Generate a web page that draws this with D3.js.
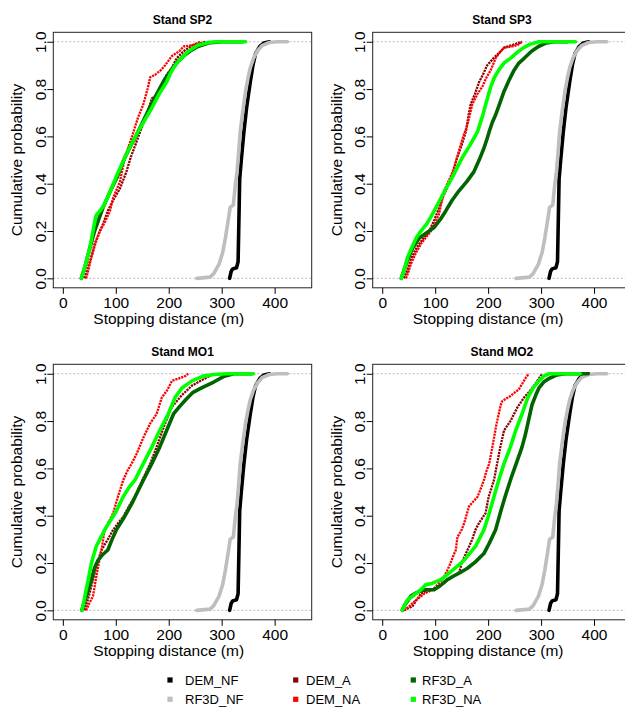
<!DOCTYPE html>
<html>
<head>
<meta charset="utf-8">
<script src="https://cdn.jsdelivr.net/npm/d3@7"></script>
<style>
  body { margin: 0; background: #fff; }
  text { font-family: "Liberation Sans", Arial, sans-serif; }
</style>
</head>
<body>
<div id="chart"></div>
<script>
// panel titles, series names and colours
var panelTitles = ["Stand SP2", "Stand SP3", "Stand MO1", "Stand MO2"];
var seriesNames = ["DEM_NF", "RF3D_NF", "DEM_A", "DEM_NA", "RF3D_A", "RF3D_NA"];
var seriesColors = ["#000000", "#bebebe", "#8b0000", "#ff0000", "#006400", "#00ff00"];
var xTicks = [0, 100, 200, 300, 400];
var yTicks = [0, 0.2, 0.4, 0.6, 0.8, 1.0];

// ECDF: [stopping distance (m), cumulative probability]
// the no-forest runs are the same in every stand
var demNF = [[315,0],[318,0.03],[321,0.04],[328,0.045],[331,0.07],[333,0.3],[334,0.42],[337,0.5],[342,0.62],[347,0.72],[354,0.83],[359,0.9],[364,0.95],[372,0.98],[380,0.995],[390,1]];
var rf3dNF = [[253,0],[278,0.005],[285,0.02],[295,0.06],[302,0.11],[307,0.17],[312,0.24],[316,0.3],[322,0.31],[326,0.4],[329,0.45],[332,0.53],[335,0.62],[340,0.71],[345,0.79],[350,0.85],[354,0.89],[360,0.93],[367,0.96],[377,0.985],[390,0.997],[405,1],[424,1]];

// Stand SP2
var sp2DemA = [[41,0],[48,0.05],[55,0.1],[60,0.145],[68,0.19],[76,0.23],[85,0.285],[95,0.33],[108,0.38],[120,0.45],[128,0.51],[138,0.57],[146,0.62],[158,0.69],[168,0.76],[180,0.78],[189,0.8],[196,0.86],[206,0.89],[215,0.93],[228,0.96],[245,0.985],[270,1]];
var sp2DemNA = [[44,0],[50,0.05],[54,0.09],[62,0.15],[70,0.2],[80,0.24],[89,0.285],[95,0.34],[108,0.41],[117,0.51],[130,0.595],[142,0.68],[152,0.735],[160,0.8],[165,0.85],[174,0.86],[185,0.88],[193,0.9],[206,0.94],[220,0.96],[228,0.98],[244,0.985],[260,1]];
var sp2Rf3dA = [[35,0],[42,0.05],[50,0.12],[60,0.2],[68,0.25],[76,0.3],[90,0.37],[103,0.43],[115,0.5],[128,0.56],[140,0.61],[155,0.68],[168,0.74],[180,0.79],[192,0.84],[205,0.88],[215,0.91],[228,0.94],[240,0.96],[255,0.98],[275,0.995],[300,1],[340,1]];
var sp2Rf3dNA = [[35,0],[43,0.06],[51,0.13],[57,0.2],[62,0.26],[64,0.27],[72,0.29],[78,0.31],[90,0.37],[101,0.43],[117,0.51],[130,0.57],[142,0.62],[155,0.67],[168,0.72],[182,0.78],[196,0.83],[204,0.87],[212,0.9],[224,0.93],[237,0.96],[255,0.985],[275,0.997],[291,1],[345,1]];

// Stand SP3
var sp3DemA = [[41,0],[47,0.03],[54,0.08],[65,0.13],[78,0.17],[89,0.2],[98,0.245],[106,0.29],[114,0.34],[124,0.39],[133,0.44],[140,0.5],[148,0.55],[158,0.62],[163,0.69],[167,0.735],[175,0.78],[183,0.83],[190,0.86],[198,0.9],[210,0.93],[224,0.96],[230,0.975],[264,1]];
var sp3DemNA = [[45,0],[50,0.03],[54,0.06],[62,0.1],[73,0.145],[85,0.18],[92,0.2],[100,0.235],[107,0.27],[112,0.32],[117,0.37],[125,0.41],[133,0.45],[140,0.5],[145,0.54],[153,0.6],[161,0.65],[170,0.735],[180,0.78],[189,0.81],[197,0.85],[205,0.88],[214,0.93],[222,0.955],[230,0.975],[245,0.98],[255,0.985],[264,1]];
var sp3Rf3dA = [[36,0],[42,0.04],[48,0.08],[58,0.13],[70,0.17],[82,0.19],[98,0.215],[110,0.25],[120,0.285],[132,0.33],[145,0.37],[160,0.41],[173,0.45],[183,0.5],[192,0.55],[198,0.59],[202,0.62],[208,0.66],[214,0.69],[222,0.74],[230,0.79],[240,0.84],[249,0.88],[258,0.91],[268,0.93],[282,0.96],[295,0.98],[310,0.995],[325,1],[350,1]];
var sp3Rf3dNA = [[36,0],[42,0.04],[48,0.09],[56,0.13],[64,0.17],[73,0.2],[84,0.23],[92,0.26],[104,0.31],[118,0.37],[133,0.43],[151,0.51],[165,0.56],[180,0.62],[190,0.69],[196,0.74],[205,0.81],[212,0.85],[220,0.88],[230,0.91],[242,0.93],[255,0.955],[267,0.975],[280,0.99],[296,1],[352,1],[365,1]];

// Stand MO1
var mo1DemA = [[41,0],[48,0.05],[57,0.13],[65,0.2],[73,0.255],[85,0.3],[95,0.34],[105,0.37],[114,0.395],[125,0.44],[136,0.48],[150,0.55],[165,0.62],[177,0.69],[185,0.74],[193,0.79],[206,0.86],[225,0.91],[244,0.95],[260,0.97],[285,1]];
var mo1DemNA = [[44,0],[50,0.03],[57,0.06],[63,0.14],[68,0.2],[73,0.255],[79,0.34],[88,0.38],[95,0.41],[104,0.48],[114,0.55],[122,0.59],[130,0.62],[139,0.66],[152,0.73],[165,0.79],[177,0.83],[187,0.9],[197,0.93],[206,0.97],[231,0.99],[237,1]];
var mo1Rf3dA = [[36,0],[43,0.05],[50,0.1],[54,0.13],[60,0.18],[66,0.21],[75,0.235],[85,0.255],[93,0.3],[101,0.34],[115,0.39],[130,0.45],[141,0.5],[152,0.55],[168,0.62],[183,0.69],[196,0.76],[209,0.83],[220,0.86],[232,0.89],[245,0.92],[262,0.94],[285,0.965],[305,0.99],[323,1],[357,1]];
var mo1Rf3dNA = [[36,0],[40,0.04],[44,0.087],[49,0.14],[54,0.2],[63,0.27],[70,0.3],[79,0.34],[90,0.38],[101,0.42],[114,0.48],[125,0.52],[136,0.55],[152,0.62],[168,0.69],[183,0.76],[199,0.83],[212,0.9],[225,0.94],[244,0.97],[265,0.99],[285,0.997],[310,1],[360,1]];

// Stand MO2
var mo2DemA = [[41,0],[50,0.01],[57,0.017],[65,0.045],[73,0.07],[85,0.085],[98,0.087],[108,0.1],[117,0.115],[130,0.14],[145,0.157],[150,0.2],[161,0.255],[170,0.3],[176,0.34],[183,0.37],[195,0.41],[201,0.48],[211,0.55],[217,0.62],[223,0.69],[230,0.76],[242,0.8],[255,0.857],[268,0.9],[280,0.93],[290,0.96],[299,0.99],[302,1]];
var mo2DemNA = [[41,0],[50,0.015],[57,0.03],[68,0.05],[79,0.07],[95,0.087],[105,0.11],[114,0.13],[122,0.165],[129,0.2],[136,0.24],[139,0.255],[142,0.31],[150,0.34],[155,0.37],[160,0.41],[164,0.44],[172,0.46],[180,0.48],[187,0.52],[192,0.55],[197,0.59],[202,0.62],[208,0.69],[212,0.74],[216,0.79],[220,0.83],[224,0.87],[227,0.885],[242,0.906],[258,0.934],[265,0.96],[271,0.983],[277,1]];
var mo2Rf3dA = [[38,0],[42,0.02],[48,0.04],[54,0.06],[65,0.075],[79,0.087],[98,0.087],[110,0.105],[123,0.13],[135,0.145],[145,0.157],[161,0.178],[176,0.205],[192,0.24],[202,0.283],[214,0.34],[224,0.42],[232,0.48],[242,0.55],[253,0.62],[264,0.69],[270,0.74],[276,0.8],[283,0.87],[290,0.91],[296,0.94],[305,0.965],[315,0.98],[330,0.995],[346,1],[389,1]];
var mo2Rf3dNA = [[38,0],[43,0.025],[48,0.045],[60,0.065],[73,0.087],[82,0.108],[95,0.115],[111,0.13],[122,0.15],[133,0.17],[154,0.21],[176,0.27],[192,0.34],[202,0.41],[211,0.48],[220,0.55],[230,0.62],[242,0.69],[252,0.76],[264,0.83],[275,0.9],[285,0.94],[296,0.97],[305,0.99],[315,1],[374,1]];

var panelSeries = [
  [demNF, rf3dNF, sp2DemA, sp2DemNA, sp2Rf3dA, sp2Rf3dNA],
  [demNF, rf3dNF, sp3DemA, sp3DemNA, sp3Rf3dA, sp3Rf3dNA],
  [demNF, rf3dNF, mo1DemA, mo1DemNA, mo1Rf3dA, mo1Rf3dNA],
  [demNF, rf3dNF, mo2DemA, mo2DemNA, mo2Rf3dA, mo2Rf3dNA]
];

var W = 625, H = 708;
var boxW = 258.4, boxH = 255.5;
var boxPos = [[53.3, 32.3], [372.7, 32.3], [53.3, 364.3], [372.7, 364.3]];

var svg = d3.select("#chart")
  .append("svg")
    .attr("width", W)
    .attr("height", H);

var x = d3.scaleLinear().domain([-18, 470]).range([0, boxW]);
var y = d3.scaleLinear().domain([-0.04, 1.04]).range([boxH, 0]);

var line = d3.line()
  .x(function(d) { return x(d[0]); })
  .y(function(d) { return y(d[1]); });

panelSeries.forEach(function(series, i) {
  var g = svg.append("g")
    .attr("transform", "translate(" + boxPos[i][0] + "," + boxPos[i][1] + ")");

  g.append("clipPath").attr("id", "clip" + i)
    .append("rect").attr("width", boxW).attr("height", boxH);

  // dashed guides at 0 and 1
  g.selectAll(".guide")
    .data([0, 1])
    .enter()
    .append("line")
      .attr("x1", 0).attr("x2", boxW)
      .attr("y1", function(d) { return y(d); })
      .attr("y2", function(d) { return y(d); })
      .attr("stroke", "#aaaaaa")
      .attr("stroke-width", 0.8)
      .attr("stroke-dasharray", "2,2");

  var plot = g.append("g").attr("clip-path", "url(#clip" + i + ")");
  series.forEach(function(s, k) {
    var sparse = (k == 2 || k == 3);
    plot.append("path")
      .datum(s)
      .attr("d", line)
      .attr("fill", "none")
      .attr("stroke", seriesColors[k])
      .attr("stroke-width", sparse ? 2.3 : 3.6)
      .attr("stroke-dasharray", sparse ? "2.2,0.9" : null)
      .attr("stroke-linejoin", "round")
      .attr("stroke-linecap", sparse ? "butt" : "round");
  });

  // frame
  g.append("rect")
    .attr("width", boxW).attr("height", boxH)
    .attr("fill", "none")
    .attr("stroke", "#222")
    .attr("stroke-width", 1);

  // axes
  var xa = g.append("g")
    .attr("transform", "translate(0," + boxH + ")")
    .call(d3.axisBottom(x).tickValues(xTicks).tickSize(6));
  xa.select(".domain").remove();
  xa.selectAll("text")
    .attr("font-size", 15.5)
    .attr("font-family", "Liberation Sans, Arial, sans-serif")
    .attr("fill", "#000")
    .attr("y", 20.5)
    .attr("dy", null);

  var ya = g.append("g")
    .call(d3.axisLeft(y).tickValues(yTicks).tickSize(6).tickFormat(d3.format(".1f")));
  ya.select(".domain").remove();
  ya.selectAll("text")
    .attr("font-size", 15.5)
    .attr("font-family", "Liberation Sans, Arial, sans-serif")
    .attr("fill", "#000")
    .attr("x", null).attr("dy", null)
    .attr("text-anchor", "middle")
    .attr("transform", "translate(-7.5,0) rotate(-90)");

  // titles
  g.append("text")
    .attr("x", boxW / 2)
    .attr("y", -8.5)
    .attr("text-anchor", "middle")
    .attr("font-size", 12)
    .attr("font-weight", "bold")
    .text(panelTitles[i]);

  g.append("text")
    .attr("x", x(200))
    .attr("y", boxH + 36)
    .attr("text-anchor", "middle")
    .attr("font-size", 15.5)
    .text("Stopping distance (m)");

  g.append("text")
    .attr("transform", "translate(-31," + y(0.5) + ") rotate(-90)")
    .attr("text-anchor", "middle")
    .attr("font-size", 15.5)
    .text("Cumulative probability");
});

// legend
var legX = [170, 295.7, 413.3];
var legTextX = [185, 306, 422];
var legY = [680, 699.3];
seriesNames.forEach(function(name, k) {
  var col = Math.floor(k / 2), row = k % 2;
  svg.append("rect")
    .attr("x", legX[col] - 2.6).attr("y", legY[row] - 2.6)
    .attr("width", 5.2).attr("height", 5.2)
    .attr("fill", seriesColors[k]);
  svg.append("text")
    .attr("x", legTextX[col])
    .attr("y", legY[row] + 4.5)
    .attr("font-size", 13)
    .text(name);
});
</script>
</body>
</html>
